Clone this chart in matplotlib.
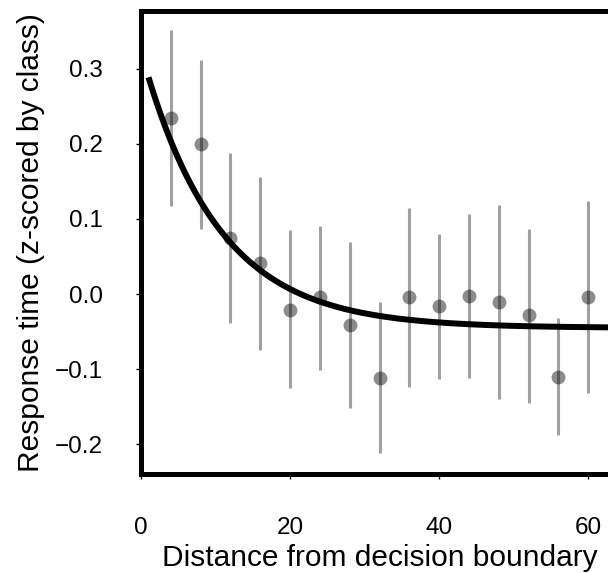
import numpy as np
import matplotlib
matplotlib.use("Agg")
import matplotlib.pyplot as plt

plt.rcParams['font.family'] = ['Liberation Sans', 'DejaVu Sans']

# Binned distances and mean response times with error bars
distance = [4, 8, 12, 16, 20, 24, 28, 32, 36, 40, 44, 48, 52, 56, 60]
rt_mean = [0.235, 0.200, 0.075, 0.041, -0.021, -0.004, -0.041, -0.111,
           -0.004, -0.016, -0.002, -0.011, -0.028, -0.110, -0.004]
rt_upper = [0.351, 0.311, 0.188, 0.156, 0.085, 0.091, 0.069, -0.011,
            0.115, 0.080, 0.107, 0.118, 0.087, -0.032, 0.124]
rt_lower = [0.117, 0.087, -0.039, -0.075, -0.125, -0.101, -0.152, -0.212,
            -0.124, -0.113, -0.111, -0.140, -0.145, -0.187, -0.131]

# Exponential decay fit: amp * exp(-d / tau) + offset
fit_amp = 0.368
fit_tau = 10.2
fit_offset = -0.045

x_ticks = [0, 20, 40, 60]
y_ticks = [-0.2, -0.1, 0.0, 0.1, 0.2, 0.3]

fig = plt.figure(figsize=(6.08, 5.73), dpi=100)
ax = fig.add_axes([0.232, 0.172, 0.787, 0.809])

d = np.array(distance)
m = np.array(rt_mean)
yerr = np.vstack([m - np.array(rt_lower), np.array(rt_upper) - m])

ax.errorbar(d, m, yerr=yerr, fmt='none', ecolor='black', alpha=0.37,
            elinewidth=2.2, capsize=0, zorder=2)
ax.plot(d, m, 'o', color='black', alpha=0.45, markersize=10,
        markeredgewidth=0, zorder=3)

xs = np.linspace(1, 70, 400)
ax.plot(xs, fit_amp * np.exp(-xs / fit_tau) + fit_offset, color='black',
        lw=4.3, zorder=4, solid_capstyle='butt')

ax.set_xlim(0, 64.2)
ax.set_ylim(-0.24, 0.377)
ax.set_xticks(x_ticks)
ax.set_yticks(y_ticks)
ax.set_yticklabels([f"{v:.1f}".replace('-', '\u2212') for v in y_ticks])

for side in ['left', 'bottom', 'top']:
    ax.spines[side].set_linewidth(3.6)
ax.spines['right'].set_visible(False)

ax.tick_params(axis='both', direction='out', length=3.5, width=1,
               labelsize=17.5)
ax.tick_params(axis='y', pad=24)
ax.tick_params(axis='x', pad=27)

ax.set_xlabel('Distance from decision boundary', fontsize=21.5, labelpad=4)
ax.set_ylabel('Response time (z-scored by class)', fontsize=21.5, labelpad=7)

fig.savefig('out.png', dpi=100)
